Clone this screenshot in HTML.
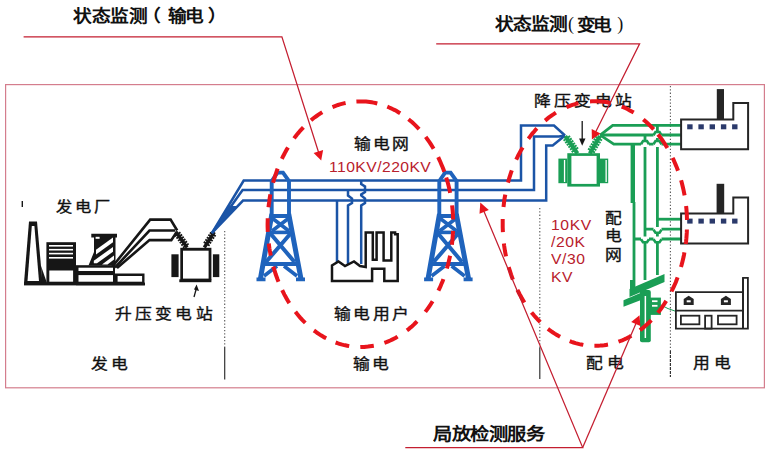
<!DOCTYPE html>
<html lang="zh-CN">
<head>
<meta charset="utf-8">
<style>
html,body{margin:0;padding:0;background:#fff;}
body{width:770px;height:455px;overflow:hidden;position:relative;font-family:"Liberation Serif",serif;}
svg{position:absolute;left:0;top:0;}
.t{position:absolute;white-space:nowrap;color:#111;line-height:1;transform-origin:0 0;}
.r{-webkit-text-stroke:0.35px #111;}
</style>
</head>
<body>
<svg width="770" height="455" viewBox="0 0 770 455">
<rect x="5.6" y="84.6" width="758.8" height="303.2" fill="none" stroke="#d47d8d" stroke-width="1.2"/>
<g stroke="#555" stroke-width="1.1">
<line x1="224.7" y1="231" x2="224.7" y2="347" stroke-dasharray="1.3 2"/>
<line x1="224.7" y1="347" x2="224.7" y2="379.5" stroke="#333" stroke-width="1.2"/>
<line x1="539.8" y1="208" x2="539.8" y2="348" stroke-dasharray="1.3 2"/>
<line x1="539.8" y1="348" x2="539.8" y2="379" stroke="#333" stroke-width="1.2"/>
<line x1="670.4" y1="86" x2="670.4" y2="351" stroke-dasharray="1.3 2"/>
<line x1="670.4" y1="351" x2="670.4" y2="377" stroke="#333" stroke-width="1.2" stroke-dasharray="3 1"/>
</g>
<g fill="#161616" stroke="none">
<path d="M29,221.5 L37,221.5 L42.5,283 L24,283 Z"/>
<path d="M31.8,226 L34.4,226 L39,281 L27.5,281 Z" fill="#fff"/>
<path d="M41,266 L47,283 L42,283 Z"/>
<rect x="46.4" y="242.2" width="29.6" height="42"/>
<rect x="49.3" y="270.5" width="23.8" height="11.2" fill="#fff"/>
<g fill="#fff">
<rect x="49" y="245" width="24" height="1.6"/>
<rect x="49" y="248.9" width="24" height="1.6"/>
<rect x="49" y="252.8" width="24" height="1.6"/>
<rect x="49" y="257" width="24" height="1.6"/>
</g>
<rect x="76" y="265.2" width="39" height="20"/>
<rect x="78.5" y="267.7" width="34.5" height="3.3" fill="#fff"/>
<rect x="78.5" y="275.1" width="34.5" height="6.6" fill="#fff"/>
<rect x="115" y="273.5" width="29.5" height="11.7"/>
<rect x="117.6" y="276" width="24.5" height="5.7" fill="#fff"/>
<rect x="24" y="282.6" width="121" height="2.8"/>
<path d="M91.3,233.8 L117,233.8 L117,237.5 L115.5,237.5 L115.5,265.5 L88.5,265.5 L94,252 L94,237.5 L91.3,237.5 Z"/>
<g fill="#fff">
<rect x="95.6" y="236.8" width="4" height="2"/>
<path d="M113,237.6 L113,242.2 L96,254.5 L96,249.8 Z"/>
<path d="M113,247 L113,251.8 L97,263.2 L93.8,263.2 L93.8,260.7 Z"/>
<path d="M114,255.6 L114,259.6 L107.5,264.4 L102,264.4 Z"/>
</g>
</g>
<rect x="21.6" y="201" width="1.4" height="6" fill="#161616"/>
<g fill="none" stroke="#161616" stroke-width="2.6" stroke-linejoin="miter">
<path d="M112.5,266.5 L150.2,219.6 L170.6,219.6 L177.2,230.5"/>
<path d="M115,267.5 L149.5,230.5 L175,230.5"/>
<path d="M117,268 L149.5,240.1 L171.3,240.1 L177,231.5"/>
</g>
<line x1="176" y1="232" x2="187.1" y2="247.5" stroke="#161616" stroke-width="3.4"/>
<path d="M180.48,232.24L174.78,236.31M182.11,234.52L176.41,238.59M183.74,236.79L178.05,240.87M185.37,239.07L179.68,243.14M187.00,241.34L181.31,245.42M188.63,243.62L182.94,247.70" stroke="#161616" stroke-width="1.8" fill="none"/>
<line x1="214.3" y1="232" x2="204.3" y2="247.5" stroke="#161616" stroke-width="3.4"/>
<path d="M215.72,236.25L209.84,232.46M214.21,238.60L208.32,234.81M212.69,240.96L206.81,237.16M211.17,243.31L205.29,239.51M209.65,245.66L203.77,241.87" stroke="#161616" stroke-width="1.8" fill="none"/>
<g fill="#161616">
<rect x="180.3" y="247.8" width="31.1" height="32.4"/>
<rect x="183" y="250.7" width="25.6" height="27.9" fill="#fff"/>
<rect x="179.3" y="279.3" width="32.1" height="2.9"/>
<rect x="171.4" y="254.3" width="7.2" height="22.8"/>
<rect x="212.9" y="254.3" width="6.4" height="22.8"/>
</g>
<path d="M194,297 L196.5,288" stroke="#161616" stroke-width="1.3"/>
<path d="M196.6,284.5 L199,291 L194,289.6 Z" fill="#161616"/>
<g fill="none" stroke="#1b54a6" stroke-width="2.5">
<path d="M212,233 L243.7,180.5 L521,180.5 L521,125.5 L554,125.5 L565,135.5"/>
<path d="M212,233 L242.6,190.1 L534,190.1 L534,136.5 L559,136.5 L565,135.5"/>
<path d="M212,233 L243,200.6 L546.2,200.6 L546.2,145.5 L552.7,145.5 L565,135.5"/>
</g>
<path d="M211.5,234 L228.5,206 L237.5,206 Z" fill="#1b54a6"/>
<g fill="none" stroke="#1f63bc" stroke-width="3.9" stroke-linejoin="miter" stroke-linecap="butt" transform="translate(0,0)">
<path d="M271.7,218 L271.7,181 L277.5,172.6 L283,172.6 L289,181 L289,218"/>
<path d="M270,216 L290.6,216" stroke-width="4"/>
<path d="M271.9,214 L260.2,280 M288.7,214 L301.2,280" stroke-width="5"/>
<path d="M272,218 L289,231 M289,218 L272,231" stroke-width="3.6"/>
<path d="M268,232.4 L293,232.4" stroke-width="3.6"/>
<path d="M270,233 L294.5,262 M291,233 L266,262" stroke-width="4"/>
<path d="M263,264 L298.3,264" stroke-width="4"/>
<path d="M264,276 L277,266 M284,266 L297,276" stroke-width="3.6"/>
<path d="M256.5,279.4 L265.5,279.4 M296,279.4 L305,279.4" stroke-width="3.6"/>
</g>
<g fill="none" stroke="#1f63bc" stroke-width="3.9" stroke-linejoin="miter" stroke-linecap="butt" transform="translate(167.6,0)">
<path d="M271.7,218 L271.7,181 L277.5,172.6 L283,172.6 L289,181 L289,218"/>
<path d="M270,216 L290.6,216" stroke-width="4"/>
<path d="M271.9,214 L260.2,280 M288.7,214 L301.2,280" stroke-width="5"/>
<path d="M272,218 L289,231 M289,218 L272,231" stroke-width="3.6"/>
<path d="M268,232.4 L293,232.4" stroke-width="3.6"/>
<path d="M270,233 L294.5,262 M291,233 L266,262" stroke-width="4"/>
<path d="M263,264 L298.3,264" stroke-width="4"/>
<path d="M264,276 L277,266 M284,266 L297,276" stroke-width="3.6"/>
<path d="M256.5,279.4 L265.5,279.4 M296,279.4 L305,279.4" stroke-width="3.6"/>
</g>
<g fill="none" stroke="#1b54a6" stroke-width="2.5">
<path d="M337,200.6 L337,264"/>
<path d="M348,190 L348,195.5 L352,198.5 L352,203 L348,205.5 L348,266"/>
<path d="M361.2,180.4 L361.2,184 L365,186.5 L365,192 L361.2,194.5 L361.2,195.5 L365,198.5 L365,203 L361.2,205.5 L361.2,264"/>
</g>
<path d="M332,281 L332,265.5 L338.5,261.5 L345,266 L354,261.5 L360,266 L365.7,267 L365.7,232.4 L372.8,232.4 L372.8,259.8 L376.6,259.8 L376.6,232.4 L383.6,232.4 L383.6,260.5 L391.3,260.5 L391.3,232.4 L395.1,232.4 L395.1,234.3 L397.7,234.3 L397.7,280.9 L384.3,280.9 L384.3,268.8 L372.1,268.8 L372.1,280.9 Z" fill="#fff" stroke="#161616" stroke-width="2.5" stroke-linejoin="miter"/>
<g fill="none" stroke="#1a9e55" stroke-width="2.8">
<path d="M600.2,135.2 L612.7,125.4 L681,125.4"/>
<path d="M600.2,135 L681,135"/>
<path d="M600.2,135.2 L613.8,144.2 L681,144.2"/>
<path d="M645,135.2 L645,280"/>
<path d="M657.4,125.4 L657.4,275"/>
<path d="M657.4,219.2 L681,219.2"/>
<path d="M644.5,229.1 L681,229.1"/>
<path d="M633,239 L681,239"/>
</g>
<g fill="#fff" stroke="none">
<rect x="641" y="141.5" width="8" height="5.5"/>
<rect x="653.5" y="141.5" width="8" height="5.5"/>
<rect x="653.5" y="132.5" width="8" height="5.5"/>
<rect x="653.5" y="227" width="8" height="5.5"/>
<rect x="641" y="236.5" width="8" height="5.5"/>
<rect x="653.5" y="236.5" width="8" height="5.5"/>
</g>
<g fill="none" stroke="#1a9e55" stroke-width="2.6">
<path d="M641,144.2 L643,141 L647,141 L649,144.2"/>
<path d="M653.5,144.2 L655.5,141 L659.5,141 L661.5,144.2"/>
<path d="M653.5,135.2 L655.5,132 L659.5,132 L661.5,135.2"/>
<path d="M653.5,229.7 L655.5,232.8 L659.5,232.8 L661.5,229.7"/>
<path d="M641,239.2 L643,242.3 L647,242.3 L649,239.2"/>
<path d="M653.5,239.2 L655.5,242.3 L659.5,242.3 L661.5,239.2"/>
</g>
<rect x="630.6" y="144" width="4.4" height="59" fill="#1a9e55"/>
<rect x="632.6" y="202" width="2.8" height="90" fill="#1a9e55"/>
<line x1="565.2" y1="136.1" x2="577.5" y2="153.5" stroke="#1a9e55" stroke-width="4"/>
<path d="M570.08,136.08L563.55,140.70M571.70,138.36L565.17,142.98M573.32,140.65L566.78,145.27M574.93,142.94L568.40,147.55M576.55,145.22L570.01,149.84M578.16,147.51L571.63,152.13" stroke="#1a9e55" stroke-width="1.9" fill="none"/>
<line x1="600" y1="136.1" x2="589.8" y2="153.5" stroke="#1a9e55" stroke-width="4"/>
<path d="M602.03,140.54L595.13,136.49M600.62,142.95L593.72,138.91M599.20,145.37L592.30,141.32M597.79,147.79L590.89,143.74M596.37,150.20L589.47,146.15M594.95,152.62L588.05,148.57" stroke="#1a9e55" stroke-width="1.9" fill="none"/>
<g fill="#1a9e55">
<rect x="567.3" y="153.2" width="32.7" height="33.4"/>
<rect x="571.4" y="155.9" width="25.2" height="28" fill="#fff"/>
<rect x="558.4" y="158.6" width="8.9" height="24.6"/>
<rect x="600" y="158.6" width="8.2" height="24.6"/>
<rect x="563.9" y="160" width="1.3" height="22" fill="#fff"/>
<rect x="605.5" y="160" width="1.3" height="22" fill="#fff"/>
</g>
<g fill="#1a9e55">
<path d="M629.5,289 L664.5,273.9 L664.5,282 L629.5,297 Z"/>
<rect x="630" y="280" width="4.4" height="12"/>
<path d="M623.5,300.3 L645,291 L645,298.5 L623.5,306.7 Z"/>
<rect x="640" y="290" width="10.8" height="52.3" rx="2"/>
<rect x="644.6" y="296" width="1.5" height="42" fill="#fff"/>
<rect x="650" y="297.6" width="10.9" height="17.3"/>
<rect x="652" y="300.3" width="5.5" height="1.8" fill="#fff"/>
<rect x="652" y="304.9" width="5.5" height="1.8" fill="#fff"/>
</g>
<path d="M661,305 L668,308.6 L676,311.4" stroke="#1a9e55" stroke-width="1" fill="none"/>
<path d="M582.2,121 L582.2,140" stroke="#161616" stroke-width="1.3"/>
<path d="M579.1,138.5 L585.5,138.5 L582.2,145.8 Z" fill="#161616"/>
<g fill="#fff" stroke="#252525" stroke-width="2">
<path d="M681.1,149.3 L681.1,119.6 L733.3,119.6 L733.3,103.1 L748.1,103.1 L748.1,149.3 Z"/>
<path d="M681.1,243.6 L681.1,213.4 L733.3,213.4 L733.3,197.4 L748.1,197.4 L748.1,243.6 Z"/>
</g>
<rect x="716.8" y="89.1" width="7.2" height="30.5" fill="#252525"/>
<rect x="716.6" y="183.8" width="7.6" height="29.6" fill="#252525"/>
<g fill="#2b3a6b">
<rect x="687.2" y="124.3" width="5.4" height="5"/>
<rect x="698.4" y="124.3" width="5.4" height="5"/>
<rect x="709.6" y="124.3" width="5.4" height="5"/>
<rect x="720.9" y="124.3" width="5.4" height="5"/>
<rect x="732.1" y="124.3" width="5.4" height="5"/>
<rect x="687.2" y="218.6" width="5.4" height="5"/>
<rect x="698.4" y="218.6" width="5.4" height="5"/>
<rect x="709.6" y="218.6" width="5.4" height="5"/>
<rect x="720.9" y="218.6" width="5.4" height="5"/>
<rect x="732.1" y="218.6" width="5.4" height="5"/>
</g>
<g fill="none" stroke="#252525" stroke-width="1.8">
<path d="M742.6,292.1 L675.9,292.1 L675.9,328.6 L747.9,328.6 L747.9,277.9 L743,277.9 L743,328.6"/>
<path d="M675.9,310.7 L743,310.7"/>
<rect x="680.9" y="315.7" width="18.5" height="8.6"/>
<rect x="718" y="315.7" width="18.6" height="8.6"/>
<rect x="705.1" y="315.7" width="6.5" height="12.9"/>
</g>
<rect x="742" y="278" width="2" height="50.6" fill="#252525"/>
<g fill="#252525">
<path d="M683.7,305 L683.7,299 L688.7,295.7 L693.7,299 L693.7,305 Z"/>
<path d="M720.9,305 L720.9,299 L725.9,295.7 L730.9,299 L730.9,305 Z"/>
</g>
<g fill="#fff"><rect x="686.7" y="300.3" width="4" height="2"/><rect x="723.9" y="300.3" width="4" height="2"/></g>
</svg>
<div class="t" id="t1a" style="left:73.40px;top:7.60px;font-size:17px;letter-spacing:-0.15px;transform:scaleX(1.1);font-weight:bold;">状态监测</div>
<div class="t" id="t1b" style="left:142.20px;top:7.60px;font-size:17px;letter-spacing:0.00px;transform:scaleX(1.1);font-weight:bold;">（</div>
<div class="t" id="t1c" style="left:168.20px;top:7.60px;font-size:17px;letter-spacing:-1.63px;transform:scaleX(1.1);font-weight:bold;">输电</div>
<div class="t" id="t1d" style="left:208.20px;top:7.60px;font-size:17px;letter-spacing:0.00px;transform:scaleX(1.1);font-weight:bold;">）</div>
<div class="t" id="t2a" style="left:495.10px;top:15.70px;font-size:17px;letter-spacing:-0.65px;transform:scaleX(1.1);font-weight:bold;">状态监测</div>
<div class="t" id="t2b" style="left:567.90px;top:14.90px;font-size:18px;letter-spacing:0.00px;transform:scaleX(1.0);font-weight:normal;">(</div>
<div class="t" id="t2c" style="left:577.00px;top:16.70px;font-size:17px;letter-spacing:-2.12px;transform:scaleX(1.1);font-weight:bold;">变电</div>
<div class="t" id="t2d" style="left:617.20px;top:14.90px;font-size:18px;letter-spacing:0.00px;transform:scaleX(1.0);font-weight:normal;">)</div>
<div class="t" id="t3" style="left:432.70px;top:426.10px;font-size:17.5px;letter-spacing:-0.07px;transform:scaleX(1.1);font-weight:bold;">局放检测服务</div>
<div class="t r" id="t4" style="left:56.10px;top:199.70px;font-size:14.5px;letter-spacing:2.88px;transform:scaleX(1.12);">发电厂</div>
<div class="t r" id="t5" style="left:115.30px;top:307.00px;font-size:15px;letter-spacing:3.00px;transform:scaleX(1.12);">升压变电站</div>
<div class="t r" id="t6" style="left:353.50px;top:136.70px;font-size:15px;letter-spacing:2.04px;transform:scaleX(1.12);">输电网</div>
<div class="t r" id="t7" style="left:333.60px;top:307.10px;font-size:15px;letter-spacing:2.30px;transform:scaleX(1.12);">输电用户</div>
<div class="t r" id="t8" style="left:534.30px;top:94.20px;font-size:15px;letter-spacing:3.04px;transform:scaleX(1.12);">降压变电站</div>
<div class="t r" id="t9" style="left:604.80px;top:209.10px;font-size:15px;letter-spacing:0.00px;transform:scaleX(1.12);width:16px;line-height:18.2px;white-space:normal;">配电网</div>
<div class="t r" id="t10" style="left:90.90px;top:356.80px;font-size:15px;letter-spacing:3.20px;transform:scaleX(1.12);">发电</div>
<div class="t r" id="t11" style="left:353.00px;top:357.10px;font-size:15px;letter-spacing:2.20px;transform:scaleX(1.12);">输电</div>
<div class="t r" id="t12" style="left:586.40px;top:356.20px;font-size:15px;letter-spacing:3.48px;transform:scaleX(1.12);">配电</div>
<div class="t r" id="t13" style="left:692.90px;top:356.20px;font-size:15px;letter-spacing:4.16px;transform:scaleX(1.12);">用电</div>
<div class="t" id="t14" style="left:329.20px;top:160.00px;font-size:14px;letter-spacing:0.40px;transform:scaleX(1.12);color:#b8202c;font-family:'Liberation Sans',sans-serif;">110KV/220KV</div>
<div class="t" id="t15" style="left:551.00px;top:216.70px;font-size:14px;letter-spacing:0.54px;transform:scaleX(1.12);color:#b8202c;font-family:'Liberation Sans',sans-serif;line-height:17.3px;">10KV<br>/20K<br>V/30<br>KV</div>
<svg width="770" height="455" viewBox="0 0 770 455">
<path d="M356.4,101.5 L358.3,101.4 L360.2,101.4 L362.1,101.4 L364.0,101.5 L366.0,101.6 L367.9,101.8 L369.8,102.0 L371.7,102.3 L373.5,102.6 L375.4,103.0 L377.3,103.5M387.3,106.7 L389.2,107.5 L391.1,108.3 L392.9,109.2 L394.8,110.1 L396.6,111.1 L398.4,112.2 L400.2,113.3M408.5,119.2 L410.3,120.7 L412.2,122.3 L413.9,123.9 L415.7,125.6 L417.4,127.3 L419.1,129.1M425.7,136.9 L427.1,138.8 L428.4,140.7 L429.8,142.6 L431.1,144.6 L432.4,146.7 L433.6,148.7M438.2,157.2 L439.3,159.6 L440.4,162.0 L441.4,164.4 L442.4,166.8 L443.4,169.3 L444.3,171.8M446.2,177.5 L447.0,180.0 L447.7,182.5 L448.4,185.1 L449.0,187.6 L449.6,190.2 L450.1,192.8M452.1,205.4 L452.4,208.2 L452.7,211.0 L452.9,213.9 L453.0,216.7 L453.1,219.5M453.1,230.9 L452.9,233.7 L452.7,236.4 L452.5,239.2 L452.2,242.0 L451.9,244.8M450.1,255.8 L449.5,258.4 L448.9,260.9 L448.3,263.5 L447.6,266.0 L446.9,268.5M443.4,279.1 L442.5,281.5 L441.5,283.8 L440.5,286.2 L439.5,288.5 L438.4,290.7M432.6,301.3 L431.2,303.5 L429.8,305.7 L428.3,307.8 L426.8,309.9 L425.3,311.9M417.1,321.4 L415.4,323.0 L413.8,324.6 L412.1,326.2 L410.4,327.6 L408.7,329.1 L406.9,330.4M397.6,336.6 L395.8,337.7 L393.9,338.7 L392.1,339.6 L390.2,340.5 L388.3,341.3 L386.3,342.1 L384.4,342.8M373.8,345.7 L371.9,346.0 L369.9,346.3 L368.0,346.6 L366.1,346.7 L364.2,346.9 L362.2,346.9 L360.3,347.0M349.2,346.1 L347.2,345.7 L345.3,345.3 L343.3,344.9 L341.4,344.4 L339.4,343.8 L337.5,343.2 L335.6,342.5M326.2,338.3 L324.4,337.4 L322.6,336.3 L320.9,335.3 L319.1,334.1 L317.4,333.0 L315.6,331.7 L313.9,330.5M305.3,322.9 L303.5,321.2 L301.8,319.4 L300.2,317.6 L298.6,315.7 L297.0,313.8 L295.4,311.8M289.3,303.1 L288.0,301.0 L286.8,298.9 L285.6,296.8 L284.4,294.6 L283.3,292.4 L282.2,290.1M278.5,281.8 L277.5,279.3 L276.6,276.8 L275.7,274.3 L274.9,271.7 L274.1,269.2 L273.3,266.6M270.7,255.6 L270.3,253.2 L269.8,250.7 L269.4,248.3 L269.1,245.9 L268.8,243.4M267.8,231.9 L267.7,229.2 L267.6,226.4 L267.6,223.7 L267.7,220.9 L267.7,218.2M268.5,207.2 L268.8,204.6 L269.2,202.1 L269.5,199.5 L269.9,196.9 L270.4,194.4M273.1,182.7 L273.7,180.3 L274.5,178.0 L275.2,175.6 L276.0,173.3 L276.8,171.0 L277.6,168.7M281.9,158.8 L283.0,156.5 L284.2,154.2 L285.4,151.9 L286.7,149.6 L288.0,147.5M294.1,138.4 L295.5,136.4 L297.0,134.5 L298.6,132.7 L300.1,130.8 L301.7,129.1 L303.4,127.3M311.0,120.3 L312.8,118.8 L314.7,117.3 L316.6,116.0 L318.5,114.7 L320.4,113.4 L322.3,112.2M332.5,107.1 L334.3,106.4 L336.2,105.7 L338.0,105.0 L339.9,104.4 L341.8,103.9 L343.7,103.4 L345.6,103.0" fill="none" stroke="#e8141c" stroke-width="4"/>
<path d="M545.1,120.6 L546.9,119.1 L548.6,117.7 L550.4,116.4 L552.2,115.1 L554.1,113.9 L555.9,112.7M566.5,107.2 L568.5,106.4 L570.4,105.6 L572.4,104.9 L574.4,104.3 L576.4,103.7 L578.4,103.2M590.0,101.4 L591.9,101.3 L593.8,101.2 L595.7,101.2 L597.7,101.3 L599.6,101.4 L601.5,101.6 L603.4,101.8 L605.3,102.0 L607.2,102.3 L609.1,102.7 L611.0,103.1M621.7,106.6 L623.8,107.4 L625.8,108.3 L627.8,109.3 L629.8,110.4 L631.8,111.5 L633.7,112.6M643.3,119.4 L645.1,121.0 L646.8,122.5 L648.6,124.2 L650.3,125.9 L652.0,127.6 L653.7,129.4M658.0,134.5 L659.5,136.3 L660.9,138.1 L662.2,140.0 L663.6,142.0 L664.9,144.0 L666.1,146.0 L667.4,148.0M672.6,157.8 L673.6,159.9 L674.5,162.0 L675.4,164.1 L676.3,166.3 L677.2,168.5 L678.0,170.7M681.1,180.2 L681.8,182.7 L682.4,185.2 L683.0,187.7 L683.6,190.3 L684.1,192.8 L684.6,195.4M686.1,206.0 L686.4,208.8 L686.6,211.6 L686.8,214.4 L686.9,217.2 L687.0,220.0M686.9,229.5 L686.8,232.4 L686.6,235.3 L686.4,238.2 L686.1,241.2 L685.7,244.1M684.4,252.4 L684.0,254.9 L683.5,257.3 L682.9,259.8 L682.3,262.2 L681.7,264.6 L681.0,267.0M677.6,277.4 L676.7,279.8 L675.8,282.2 L674.8,284.5 L673.7,286.9 L672.6,289.2 L671.5,291.5M666.2,300.9 L664.9,303.0 L663.6,305.0 L662.2,307.1 L660.8,309.0 L659.3,311.0 L657.8,312.8M651.3,320.2 L649.8,321.8 L648.2,323.3 L646.6,324.8 L644.9,326.2 L643.3,327.6 L641.6,328.9 L639.9,330.2M631.3,335.8 L629.6,336.8 L627.7,337.8 L625.9,338.7 L624.1,339.5 L622.2,340.3 L620.4,341.0 L618.5,341.7M608.0,344.6 L606.1,344.9 L604.1,345.2 L602.2,345.4 L600.2,345.6 L598.3,345.7 L596.4,345.8 L594.4,345.8M583.3,344.9 L581.4,344.5 L579.4,344.1 L577.4,343.6 L575.5,343.1 L573.5,342.5 L571.6,341.9 L569.7,341.2M560.1,336.8 L558.3,335.8 L556.5,334.7 L554.7,333.6 L553.0,332.5 L551.3,331.3 L549.6,330.1 L547.9,328.8M540.2,322.1 L538.7,320.5 L537.2,319.0 L535.8,317.4 L534.3,315.8 L532.9,314.1 L531.5,312.4M524.4,302.5 L523.2,300.5 L521.9,298.4 L520.8,296.3 L519.6,294.2 L518.5,292.0 L517.4,289.8M512.9,279.6 L512.0,277.2 L511.1,274.7 L510.3,272.2 L509.5,269.7 L508.7,267.2M506.0,256.3 L505.5,253.8 L505.0,251.2 L504.6,248.7 L504.2,246.1 L503.9,243.6M502.9,232.2 L502.8,229.6 L502.7,227.0 L502.7,224.4 L502.7,221.7 L502.7,219.1M503.5,207.1 L503.8,204.6 L504.1,202.1 L504.4,199.6 L504.8,197.1 L505.3,194.6M508.0,182.6 L508.7,180.1 L509.4,177.6 L510.2,175.2 L511.0,172.7 L511.8,170.3M516.2,159.7 L517.2,157.6 L518.2,155.5 L519.3,153.5 L520.4,151.4 L521.5,149.4 L522.7,147.5M528.4,138.7 L529.8,136.9 L531.1,135.1 L532.5,133.4 L534.0,131.7 L535.4,130.0 L536.9,128.4" fill="none" stroke="#e8141c" stroke-width="4"/>
<g fill="none" stroke="#c41e30" stroke-width="1.25">
<path d="M23.6,36.8 L281.9,36.8 L318.8,153.0"/>
<path d="M436.2,43.9 L639.6,43.9 L595.4,132.5"/>
<path d="M405.3,447.6 L582.7,447.6 L483.6,210.4"/>
<path d="M582.7,447.6 L636.4,322.6"/>
</g>
<g fill="#e8141c">
<path d="M321.2,160.6 L313.6,153.1 L323.1,150.0 Z"/><path d="M591.9,139.6 L591.7,129.0 L600.5,133.4 Z"/><path d="M480.3,202.6 L488.8,209.9 L479.5,213.8 Z"/><path d="M639.5,315.3 L640.4,325.9 L631.2,322.0 Z"/>
</g>
</svg>
</body>
</html>
